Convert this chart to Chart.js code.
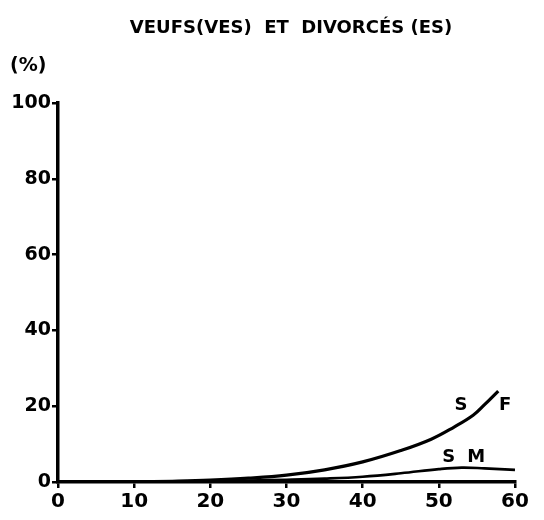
<!DOCTYPE html>
<html>
<head>
<meta charset="utf-8">
<script src="https://cdn.jsdelivr.net/npm/chart.js@4.4.0/dist/chart.umd.min.js"></script>
<style>
  body { margin: 0; background: #fff; }
  #wrap { width: 544px; height: 520px; }
</style>
</head>
<body>
<div id="wrap"><canvas id="veufsChart" width="544" height="520"></canvas></div>
<script>
    // valeurs (age, %)
    var agesF = [10, 15, 20, 25, 30, 35, 40, 45, 49, 52, 54.5, 56, 57.8];
    var valeursF = [0, 0.2, 0.5, 1.0, 1.8, 3.2, 5.3, 8.3, 11.3, 14.5, 17.6, 20.4, 24.0];
    var agesM = [10, 20, 25, 30, 35, 40, 45, 50, 53, 56, 60];
    var valeursM = [0, 0.2, 0.4, 0.6, 0.9, 1.4, 2.3, 3.4, 3.8, 3.6, 3.2];
    var ticksX = [0, 10, 20, 30, 40, 50, 60];
    var ticksY = [0, 20, 40, 60, 80, 100];

    function points(xs, ys) {
        return xs.map(function (x, i) { return { x: x, y: ys[i] }; });
    }

    var police = "'DejaVu Sans', sans-serif";

    // titre, "(%)" et etiquettes des courbes
    var textes = {
        id: 'textes',
        afterDraw: function (chart) {
            var c = chart.ctx;
            var sx = chart.scales.x, sy = chart.scales.y;
            c.save();
            c.fillStyle = '#000';
            c.font = 'bold 18px ' + police;
            c.textAlign = 'center';
            c.textBaseline = 'middle';
            c.fillText('VEUFS(VES)  ET  DIVORCÉS (ES)', 291, 28);
            c.textAlign = 'left';
            c.font = 'bold 19px ' + police;
            c.fillText('(%)', 10, 66);
            c.textAlign = 'center';
            c.font = 'bold 18px ' + police;
            c.fillText('S', sx.getPixelForValue(52.9), sy.getPixelForValue(20.3));
            c.fillText('F', sx.getPixelForValue(58.7), sy.getPixelForValue(20.3));
            c.fillText('S', sx.getPixelForValue(51.3), sy.getPixelForValue(6.6));
            c.fillText('M', sx.getPixelForValue(54.9), sy.getPixelForValue(6.6));
            c.restore();
        }
    };

    var ctx = document.getElementById('veufsChart').getContext('2d');
    var myChart = new Chart(ctx, {
        type: 'line',
        data: {
            datasets: [{
                label: 'S F',
                data: points(agesF, valeursF),
                borderColor: '#000',
                borderWidth: 3.2,
                pointRadius: 0,
                tension: 0.4
            }, {
                label: 'S M',
                data: points(agesM, valeursM),
                borderColor: '#000',
                borderWidth: 2.6,
                pointRadius: 0,
                tension: 0.4
            }]
        },
        options: {
            responsive: false,
            animation: false,
            layout: { padding: { top: 103, right: 29, left: 0, bottom: 0 } },
            plugins: {
                legend: { display: false },
                tooltip: { enabled: false }
            },
            scales: {
                x: {
                    type: 'linear',
                    min: 0,
                    max: 60,
                    afterBuildTicks: function (axis) {
                        axis.ticks = ticksX.map(function (v) { return { value: v }; });
                    },
                    afterFit: function (axis) { axis.height = 38; },
                    border: { color: '#000', width: 3.5 },
                    grid: { drawOnChartArea: false, tickLength: 6, color: '#000', lineWidth: 2.5 },
                    ticks: {
                        color: '#000',
                        padding: 2,
                        maxRotation: 0,
                        font: { family: police, size: 20, weight: 'bold' }
                    }
                },
                y: {
                    min: 0,
                    max: 100,
                    afterBuildTicks: function (axis) {
                        axis.ticks = ticksY.map(function (v) { return { value: v }; });
                    },
                    afterFit: function (axis) { axis.width = 58; },
                    border: { color: '#000', width: 3.5 },
                    grid: { drawOnChartArea: false, tickLength: 6, color: '#000', lineWidth: 2.5 },
                    ticks: {
                        color: '#000',
                        padding: 1,
                        font: { family: police, size: 19, weight: 'bold' }
                    }
                }
            }
        },
        plugins: [textes]
    });
</script>
</body>
</html>
